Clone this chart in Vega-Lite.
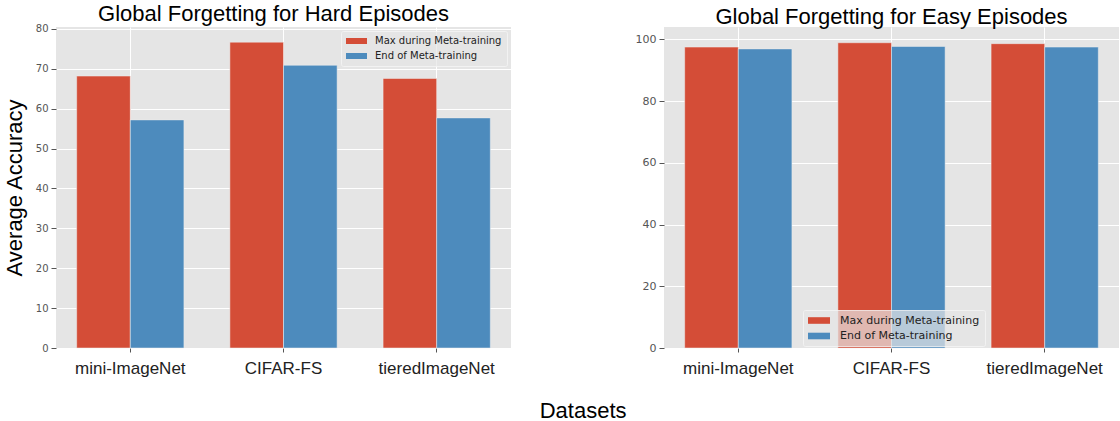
{
  "$schema": "https://vega.github.io/schema/vega-lite/v6.json",
  "padding": {"left": 3, "top": 2, "right": 0, "bottom": 0},
  "background": "white",
  "datasets": {
    "hard": [
      {"dataset": "mini-ImageNet", "series": "Max during Meta-training", "accuracy": 68.2},
      {"dataset": "mini-ImageNet", "series": "End of Meta-training", "accuracy": 57.2},
      {"dataset": "CIFAR-FS", "series": "Max during Meta-training", "accuracy": 76.7},
      {"dataset": "CIFAR-FS", "series": "End of Meta-training", "accuracy": 70.9},
      {"dataset": "tieredImageNet", "series": "Max during Meta-training", "accuracy": 67.6},
      {"dataset": "tieredImageNet", "series": "End of Meta-training", "accuracy": 57.7}
    ],
    "easy": [
      {"dataset": "mini-ImageNet", "series": "Max during Meta-training", "accuracy": 97.5},
      {"dataset": "mini-ImageNet", "series": "End of Meta-training", "accuracy": 96.9},
      {"dataset": "CIFAR-FS", "series": "Max during Meta-training", "accuracy": 98.9},
      {"dataset": "CIFAR-FS", "series": "End of Meta-training", "accuracy": 97.7},
      {"dataset": "tieredImageNet", "series": "Max during Meta-training", "accuracy": 98.6},
      {"dataset": "tieredImageNet", "series": "End of Meta-training", "accuracy": 97.5}
    ]
  },
  "title": {
    "text": "Datasets",
    "orient": "bottom",
    "anchor": "middle",
    "fontSize": 22,
    "font": "Liberation Sans",
    "fontWeight": "normal",
    "color": "black",
    "offset": 25,
    "dx": 22
  },
  "spacing": 124,
  "config": {
    "view": {"fill": "#E5E5E5", "stroke": null},
    "axis": {
      "domain": false,
      "gridColor": "#FFFFFF",
      "gridWidth": 1,
      "tickColor": "#555555",
      "labelColor": "#555555",
      "labelFont": "DejaVu Sans",
      "titleFont": "Liberation Sans",
      "titleFontWeight": "normal",
      "titleColor": "black"
    },
    "title": {"font": "Liberation Sans", "fontWeight": "normal", "fontSize": 22, "color": "black"},
    "legend": {
      "labelFont": "DejaVu Sans",
      "labelColor": "#222222",
      "symbolStrokeWidth": 0,
      "fillColor": "rgba(229,229,229,0.7)",
      "strokeColor": "rgba(245,245,245,0.8)",
      "cornerRadius": 2,
      "padding": 5
    }
  },
  "resolve": {"scale": {"color": "independent"}, "legend": {"color": "independent"}},
  "hconcat": [
    {
      "width": 455,
      "height": 321,
      "data": {"name": "hard"},
      "title": {"text": "Global Forgetting for Hard Episodes", "baseline": "bottom", "offset": -24, "dx": -10},
      "mark": {"type": "bar", "stroke": "#EEEEEE", "strokeWidth": 0.5},
      "encoding": {
        "x": {
          "field": "dataset", "type": "nominal",
          "sort": ["mini-ImageNet", "CIFAR-FS", "tieredImageNet"],
          "scale": {"paddingInner": 0.3, "paddingOuter": 0.135},
          "axis": {"title": null, "labelAngle": 0, "labelFont": "Liberation Sans", "labelFontSize": 17, "labelColor": "#222222", "tickSize": 4, "labelPadding": 8, "grid": true}
        },
        "xOffset": {
          "field": "series", "type": "nominal",
          "sort": ["Max during Meta-training", "End of Meta-training"],
          "scale": {"paddingInner": 0, "paddingOuter": 0}
        },
        "y": {
          "field": "accuracy", "type": "quantitative",
          "scale": {"domain": [0, 80.5], "nice": false},
          "axis": {"values": [0, 10, 20, 30, 40, 50, 60, 70, 80], "title": "Average Accuracy", "titleFontSize": 22, "titlePadding": 9, "labelFontSize": 10, "tickSize": 5, "labelPadding": 3, "grid": true}
        },
        "color": {
          "field": "series", "type": "nominal",
          "scale": {"domain": ["Max during Meta-training", "End of Meta-training"], "range": ["#D44D37", "#4D8BBD"]},
          "legend": {"title": null, "orient": "top-right", "offset": 4, "labelFontSize": 10, "symbolType": "M-1,-0.6H3.2V0.6H-1Z", "symbolSize": 100, "labelOffset": 19, "rowPadding": 5}
        }
      }
    },
    {
      "width": 455,
      "height": 321,
      "data": {"name": "easy"},
      "title": {"text": "Global Forgetting for Easy Episodes", "baseline": "bottom", "offset": -24},
      "mark": {"type": "bar", "stroke": "#EEEEEE", "strokeWidth": 0.5},
      "encoding": {
        "x": {
          "field": "dataset", "type": "nominal",
          "sort": ["mini-ImageNet", "CIFAR-FS", "tieredImageNet"],
          "scale": {"paddingInner": 0.3, "paddingOuter": 0.135},
          "axis": {"title": null, "labelAngle": 0, "labelFont": "Liberation Sans", "labelFontSize": 17, "labelColor": "#222222", "tickSize": 4, "labelPadding": 8, "grid": true}
        },
        "xOffset": {
          "field": "series", "type": "nominal",
          "sort": ["Max during Meta-training", "End of Meta-training"],
          "scale": {"paddingInner": 0, "paddingOuter": 0}
        },
        "y": {
          "field": "accuracy", "type": "quantitative",
          "scale": {"domain": [0, 104], "nice": false},
          "axis": {"values": [0, 20, 40, 60, 80, 100], "title": null, "labelFontSize": 11, "tickSize": 5, "labelPadding": 3, "grid": true}
        },
        "color": {
          "field": "series", "type": "nominal",
          "scale": {"domain": ["Max during Meta-training", "End of Meta-training"], "range": ["#D44D37", "#4D8BBD"]},
          "legend": {"title": null, "orient": "none", "legendX": 139, "legendY": 283, "labelFontSize": 11, "symbolType": "M-1,-0.6H3V0.6H-1Z", "symbolSize": 121, "labelOffset": 21, "rowPadding": 3.5}
        }
      }
    }
  ]
}
